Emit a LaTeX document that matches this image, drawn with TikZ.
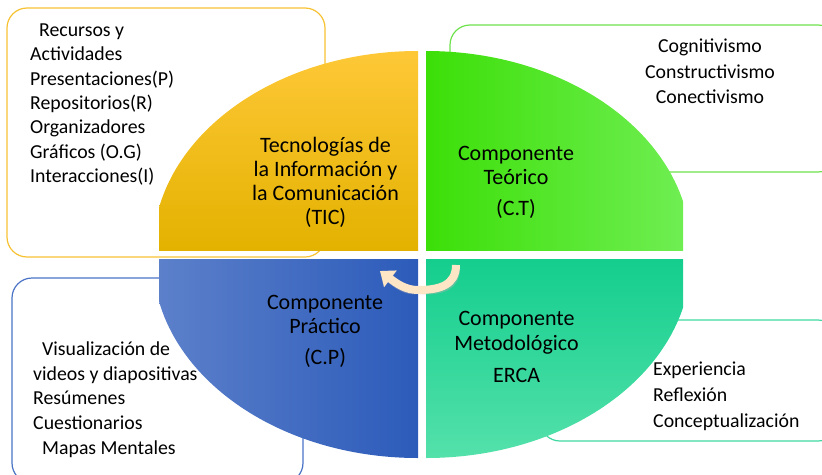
\documentclass[tikz,border=0pt]{standalone}
\usepackage{fontspec}
\setmainfont{Carlito}
\usetikzlibrary{arrows.meta}
\definecolor{yTop}{HTML}{FFC93A}
\definecolor{yBot}{HTML}{E3B200}
\definecolor{gLeft}{HTML}{3CDF08}
\definecolor{gRight}{HTML}{6FEE52}
\definecolor{bLeft}{HTML}{5C80CA}
\definecolor{bRight}{HTML}{2C5BBA}
\definecolor{tTop}{HTML}{14CE8E}
\definecolor{tBot}{HTML}{58E2AC}
\definecolor{boxYc}{HTML}{F7C232}
\definecolor{boxGc}{HTML}{6EE24C}
\definecolor{boxBc}{HTML}{4A73C6}
\definecolor{boxTc}{HTML}{3ED8A0}
\definecolor{cream}{HTML}{FDE6C6}
\begin{document}
\begin{tikzpicture}[x=1pt,y=-1pt,
  infobox/.style={line width=1.2pt,rounded corners=20pt},
  txt/.style={inner sep=0pt,font=\fontsize{19.8}{24.4}\selectfont},
  qtxt/.style={inner sep=0pt,align=center,font=\fontsize{22}{24.5}\selectfont},
  cyclearrow/.style={line width=8pt,-{Triangle[length=13pt,width=20pt]}}]
\useasboundingbox (0,0) rectangle (822,474);
% outer boxes (behind)
\draw[infobox,draw=boxYc] (7,8) rectangle (325,257);
\draw[infobox,draw=boxGc] (450,25) rectangle (838,172);
\draw[infobox,draw=boxBc] (12,278) rectangle (303,483);
\draw[infobox,draw=boxTc] (540,320) rectangle (838,441);
% quadrants
\begin{scope}
 \clip (418,250) ellipse [x radius=265,y radius=199];
 \shade[top color=yTop,bottom color=yBot] (159,40) rectangle (418,250);
\end{scope}
\begin{scope}
 \clip (426,250) ellipse [x radius=265,y radius=199];
 \shade[left color=gLeft,right color=gRight] (426,40) rectangle (683,250);
\end{scope}
\begin{scope}
 \clip (418,259) ellipse [x radius=265,y radius=199];
 \shade[left color=bLeft,right color=bRight] (159,259) rectangle (418,470);
\end{scope}
\begin{scope}
 \clip (426,259) ellipse [x radius=265,y radius=199];
 \shade[top color=tTop,bottom color=tBot] (426,259) rectangle (683,470);
\end{scope}
% quadrant texts
\node[qtxt,font=\fontsize{22}{24}\selectfont] (tic) at (325.5,182) {Tecnologías de\\la Información y\\la Comunicación\\(TIC)};
\node[qtxt] (ct) at (516,182) {Componente\\Teórico\\[6pt](C.T)};
\node[qtxt] (cp) at (325,331) {Componente\\Práctico\\[6pt](C.P)};
\node[qtxt] (cm) at (516.5,347) {Componente\\Metodológico\\[8pt]ERCA};
% box texts
\node[txt,align=left,anchor=west] (rec) at (30,104.5) {\hspace{9pt}Recursos y\\Actividades\\Presentaciones(P)\\Repositorios(R)\\Organizadores\\Gráficos (O.G)\\Interacciones(I)};
\node[txt,align=center,font=\fontsize{19.8}{25.5}\selectfont] (teo) at (710,71.5) {Cognitivismo\\Constructivismo\\Conectivismo};
\node[txt,align=left,anchor=west,font=\fontsize{19.8}{24.7}\selectfont] (pra) at (33,399.5) {\hspace{9pt}Visualización de\\videos y diapositivas\\Resúmenes\\Cuestionarios\\\hspace{9pt}Mapas Mentales};
\node[txt,align=left,anchor=west,font=\fontsize{19.8}{26}\selectfont] (met) at (653,396) {Experiencia\\Reflexión\\Conceptualización};
% cycle arrow
\coordinate (arrS) at (456,265);
\coordinate (arrM) at (418,290);
\coordinate (arrE) at (380,271);
\begin{scope}[shift={(1.5,2)}]
\draw[cyclearrow,gray!60,opacity=0.4] (arrS) .. controls (456,285) and (440,290) .. (arrM) .. controls (405,290) and (396,283) .. (arrE);
\end{scope}
\draw[cyclearrow,cream] (arrS) .. controls (456,285) and (440,290) .. (arrM) .. controls (405,290) and (396,283) .. (arrE);
\end{tikzpicture}
\end{document}
